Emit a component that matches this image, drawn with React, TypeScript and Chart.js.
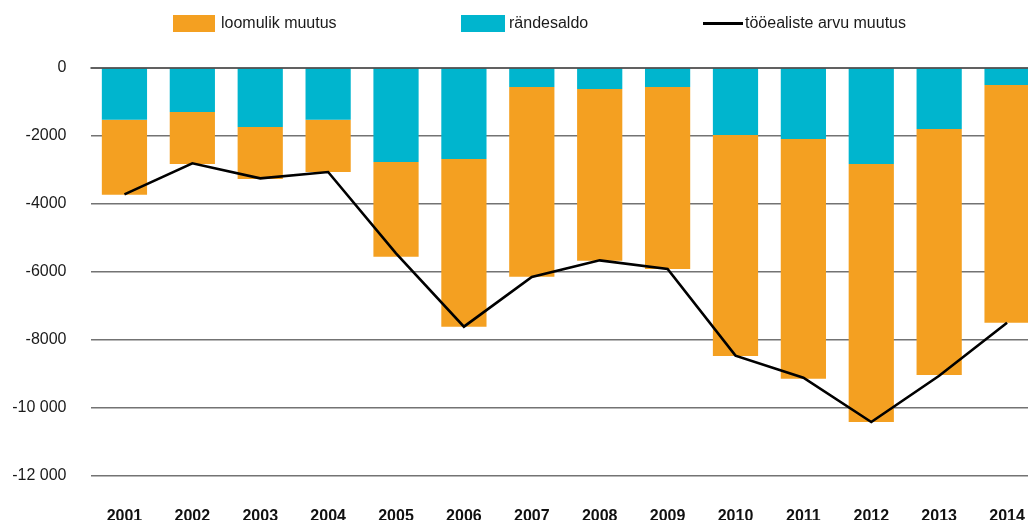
import React, { useEffect, useRef } from "react";
import { Chart, registerables } from "chart.js";

Chart.register(...registerables);

const years = ["2001", "2002", "2003", "2004", "2005", "2006", "2007", "2008", "2009", "2010", "2011", "2012", "2013", "2014"];
const naturalChange = [-2205, -1530, -1530, -1539, -2784, -4932, -5578, -5049, -5353, -6500, -7049, -7588, -7235, -6990];
const migrationBalance = [-1520, -1294, -1735, -1520, -2765, -2676, -559, -618, -559, -1971, -2088, -2824, -1794, -500];
const workingAgeChange = [-3715, -2804, -3245, -3059, -5450, -7608, -6147, -5657, -5912, -8461, -9108, -10412, -9050, -7490];

const seriesLabels = ["loomulik muutus", "rändesaldo", "tööealiste arvu muutus"];
const seriesColors = ["#F4A021", "#00B5CE", "#000000"];

const yMin = -12000;
const yMax = 0;
const yStep = 2000;

const FONT = "'Liberation Sans', Arial, Helvetica, sans-serif";

function formatTick(v: number): string {
  const s = String(Math.abs(v));
  const body = Math.abs(v) >= 10000 ? s.replace(/(\d)(?=(\d{3})+$)/g, "$1 ") : s;
  return (v < 0 ? "-" : "") + body;
}

const zeroLinePlugin = {
  id: "zeroLine",
  afterDatasetsDraw(chart: any) {
    const { ctx, chartArea, scales } = chart;
    const y = scales.y.getPixelForValue(0);
    ctx.save();
    ctx.strokeStyle = "rgba(0,0,0,0.62)";
    ctx.lineWidth = 2;
    ctx.beginPath();
    ctx.moveTo(chartArea.left, y);
    ctx.lineTo(chartArea.right, y);
    ctx.stroke();
    ctx.restore();
  },
};

export default function App() {
  const canvasRef = useRef<HTMLCanvasElement | null>(null);

  useEffect(() => {
    if (!canvasRef.current) return;
    const chart = new Chart(canvasRef.current, {
      type: "bar",
      data: {
        labels: years,
        datasets: [
          {
            type: "line",
            label: seriesLabels[2],
            data: workingAgeChange,
            borderColor: seriesColors[2],
            borderWidth: 2.6,
            pointRadius: 0,
            fill: false,
            tension: 0,
            order: 0,
          } as any,
          {
            type: "bar",
            label: seriesLabels[1],
            data: migrationBalance,
            backgroundColor: seriesColors[1],
            stack: "s",
            barPercentage: 0.666,
            categoryPercentage: 1,
            order: 1,
          },
          {
            type: "bar",
            label: seriesLabels[0],
            data: naturalChange,
            backgroundColor: seriesColors[0],
            stack: "s",
            barPercentage: 0.666,
            categoryPercentage: 1,
            order: 2,
          },
        ],
      },
      options: {
        responsive: false,
        animation: false,
        layout: { padding: { left: 0, right: 4, top: 68, bottom: 0 } },
        plugins: {
          legend: { display: false },
          tooltip: { enabled: false },
        },
        scales: {
          x: {
            stacked: true,
            grid: { display: false },
            border: { display: false },
            ticks: {
              color: "#111",
              font: { family: FONT, size: 16, weight: "bold" },
              padding: 23,
              maxRotation: 0,
              autoSkip: false,
            },
            afterFit: (scale: any) => {
              scale.height = 44;
            },
          },
          y: {
            stacked: true,
            min: yMin,
            max: yMax,
            border: { display: false },
            grid: {
              drawTicks: false,
              lineWidth: 1.6,
              color: (c: any) => (c.tick && c.tick.value === 0 ? "rgba(0,0,0,0)" : "#737373"),
            },
            ticks: {
              stepSize: yStep,
              color: "#1a1a1a",
              font: { family: FONT, size: 16 },
              padding: 24,
              callback: (v: any) => formatTick(Number(v)),
            },
            afterFit: (scale: any) => {
              scale.width = 90.5;
            },
          },
        },
      },
      plugins: [zeroLinePlugin],
    });
    return () => chart.destroy();
  }, []);

  const textStyle: React.CSSProperties = {
    position: "absolute",
    top: 14,
    fontFamily: FONT,
    fontSize: 16,
    color: "#1a1a1a",
    lineHeight: "18px",
    whiteSpace: "nowrap",
  };

  return (
    <div
      style={{
        position: "fixed",
        left: 0,
        top: 0,
        width: 1028,
        height: 520,
        overflow: "hidden",
        background: "#fff",
      }}
    >
      <canvas ref={canvasRef} width={1048} height={520} style={{ position: "absolute", left: 0, top: 0, width: 1048, height: 520 }} />
      <div style={{ position: "absolute", left: 173, top: 15, width: 42, height: 17, background: seriesColors[0] }} />
      <div style={{ ...textStyle, left: 221 }}>{seriesLabels[0]}</div>
      <div style={{ position: "absolute", left: 461, top: 15, width: 44, height: 17, background: seriesColors[1] }} />
      <div style={{ ...textStyle, left: 509 }}>{seriesLabels[1]}</div>
      <div style={{ position: "absolute", left: 703, top: 22, width: 40, height: 3, background: seriesColors[2] }} />
      <div style={{ ...textStyle, left: 745 }}>{seriesLabels[2]}</div>
    </div>
  );
}
